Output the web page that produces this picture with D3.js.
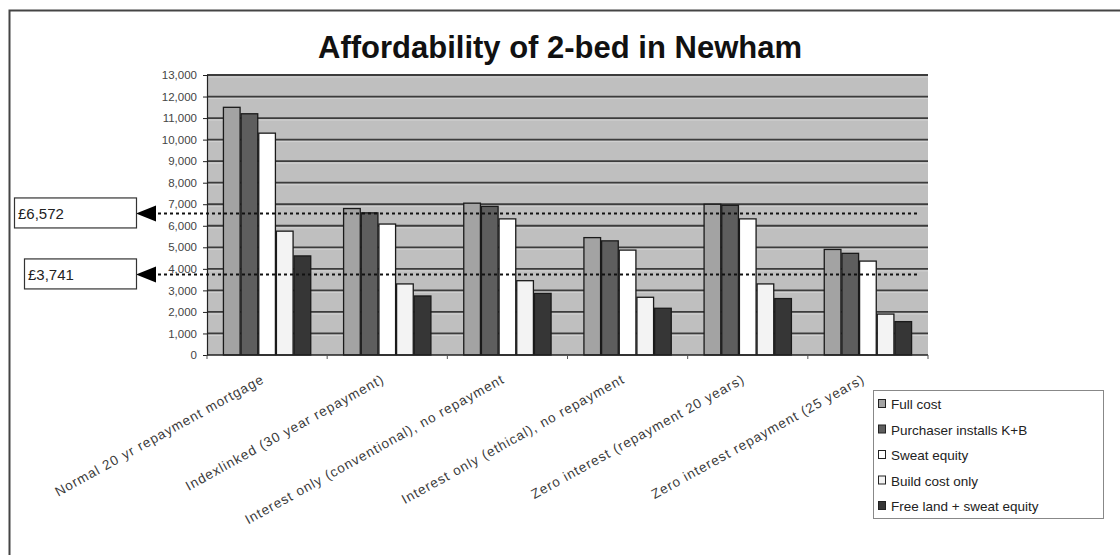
<!DOCTYPE html>
<html>
<head>
<meta charset="utf-8">
<script src="https://cdn.jsdelivr.net/npm/d3@7"></script>
<style>
  html, body { margin: 0; padding: 0; background: #fff; }
  svg { display: block; font-family: "Liberation Sans", Arial, sans-serif; }
</style>
</head>
<body>
<svg id="chart" width="1120" height="555"></svg>
<script>
// Annual cost of a 2-bed home in Newham under different finance options (£)
const categories = [
  "Normal 20 yr repayment mortgage",
  "Indexlinked (30 year repayment)",
  "Interest only (conventional), no repayment",
  "Interest only (ethical), no repayment",
  "Zero interest (repayment 20 years)",
  "Zero interest repayment (25 years)"
];
const seriesNames = [
  "Full cost",
  "Purchaser installs K+B",
  "Sweat equity",
  "Build cost only",
  "Free land + sweat equity"
];
const fullCost      = [11500, 6800, 7050, 5450, 7000, 4900];
const purchaserKB   = [11200, 6600, 6900, 5300, 6950, 4720];
const sweatEquity   = [10300, 6080, 6320, 4870, 6320, 4360];
const buildCostOnly = [5750, 3300, 3450, 2680, 3300, 1900];
const freeLand      = [4600, 2740, 2860, 2170, 2620, 1550];
const seriesValues = [fullCost, purchaserKB, sweatEquity, buildCostOnly, freeLand];
const yTicks = d3.range(0, 13001, 1000);
const refValues = [6572, 3741];
const refLabels = ["£6,572", "£3,741"];

const fills = ["#a3a3a3", "#5e5e5e", "#ffffff", "#f3f3f3", "#363636"];

const svg = d3.select("#chart");
const W = 1120, H = 555;
const plot = { left: 207, right: 928, top: 75, bottom: 355 };

// outer frame (only top and left edges fall inside the view)
svg.append("rect")
  .attr("x", 9.5).attr("y", 10.5)
  .attr("width", W + 20).attr("height", H + 20)
  .attr("fill", "none").attr("stroke", "#444").attr("stroke-width", 2);

// title
svg.append("text")
  .attr("x", 560).attr("y", 58)
  .attr("text-anchor", "middle")
  .attr("font-size", 31).attr("font-weight", "bold")
  .attr("fill", "#111")
  .text("Affordability of 2-bed in Newham");

const x0 = d3.scaleBand().domain(categories).range([plot.left, plot.right]).padding(0);
const groupFrac = 0.735;
const x1 = d3.scaleBand().domain(seriesNames)
  .range([0, x0.bandwidth() * groupFrac]).padding(0);
const groupOffset = x0.bandwidth() * (1 - groupFrac) / 2;
const y = d3.scaleLinear().domain([0, 13000]).range([plot.bottom, plot.top]);

// plot background
svg.append("rect")
  .attr("x", plot.left).attr("y", plot.top)
  .attr("width", plot.right - plot.left).attr("height", plot.bottom - plot.top)
  .attr("fill", "#bfbfbf");

// horizontal gridlines
const grid = svg.append("g");
grid.selectAll("line.g").data(yTicks.filter(d => d > 0)).join("line")
  .attr("class", "g")
  .attr("x1", plot.left).attr("x2", plot.right)
  .attr("y1", d => y(d)).attr("y2", d => y(d))
  .attr("stroke", "#3c3c3c").attr("stroke-width", 1.8);
grid.selectAll("line.h").data(yTicks.filter(d => d > 0)).join("line")
  .attr("class", "h")
  .attr("x1", plot.left).attr("x2", plot.right)
  .attr("y1", d => y(d) + 2).attr("y2", d => y(d) + 2)
  .attr("stroke", "#d2d2d2").attr("stroke-width", 1);

// y axis
const yAxis = d3.axisLeft(y).tickValues(yTicks).tickSize(4).tickPadding(6)
  .tickFormat(d3.format(","));
const gy = svg.append("g").attr("transform", `translate(${plot.left},0)`).call(yAxis);
gy.select(".domain").attr("stroke", "#222").attr("stroke-width", 1.2);
gy.selectAll(".tick line").attr("stroke", "#222");
gy.selectAll(".tick text").attr("font-size", 11.5).attr("fill", "#444")
  .attr("font-family", "'Liberation Sans', Arial, sans-serif");

// bars
const groups = svg.append("g").selectAll("g").data(categories).join("g")
  .attr("transform", c => `translate(${x0(c) + groupOffset},0)`);
groups.selectAll("rect")
  .data((c, i) => seriesNames.map((s, j) => ({ s, j, v: seriesValues[j][i] })))
  .join("rect")
  .attr("x", d => x1(d.s) + 0.5)
  .attr("width", x1.bandwidth() - 1)
  .attr("y", d => y(d.v))
  .attr("height", d => y(0) - y(d.v))
  .attr("fill", d => fills[d.j])
  .attr("stroke", "#1a1a1a").attr("stroke-width", 1.3);

// x axis with ticks at category boundaries
svg.append("line")
  .attr("x1", plot.left).attr("x2", plot.right)
  .attr("y1", plot.bottom).attr("y2", plot.bottom)
  .attr("stroke", "#222").attr("stroke-width", 1.5);
svg.append("g").selectAll("line")
  .data(categories.map(c => x0(c)).concat([plot.right]))
  .join("line")
  .attr("x1", d => d).attr("x2", d => d)
  .attr("y1", plot.bottom).attr("y2", plot.bottom + 4)
  .attr("stroke", "#555");

// rotated category labels
svg.append("g").selectAll("text").data(categories).join("text")
  .attr("transform", c => `translate(${x0(c) + x0.bandwidth() / 2 - 2},${plot.bottom + 27}) rotate(-29)`)
  .attr("text-anchor", "end")
  .attr("font-size", 13.5)
  .attr("letter-spacing", 1)
  .attr("fill", "#3a3a3a")
  .text(c => c);

// reference lines with value callouts
const refs = svg.append("g");
refValues.forEach((v, i) => {
  const yy = y(v);
  refs.append("line")
    .attr("x1", 152).attr("x2", 920)
    .attr("y1", yy).attr("y2", yy)
    .attr("stroke", "#111").attr("stroke-width", 2)
    .attr("stroke-dasharray", "3,3");
  refs.append("path")
    .attr("d", `M136,${yy} L156,${yy - 8} L156,${yy + 8} Z`)
    .attr("fill", "#000");
  const bx = i === 0 ? 14 : 24;
  refs.append("rect")
    .attr("x", bx + 0.5).attr("y", yy - 15.5)
    .attr("width", 136 - bx).attr("height", 30)
    .attr("fill", "#fff").attr("stroke", "#333").attr("stroke-width", 1.2);
  refs.append("text")
    .attr("x", bx + 4).attr("y", yy + 6)
    .attr("font-size", 15).attr("fill", "#222")
    .text(refLabels[i]);
});

// legend
const lg = svg.append("g").attr("transform", "translate(873,390)");
lg.append("rect")
  .attr("x", 0.5).attr("y", 0.5).attr("width", 230).attr("height", 128)
  .attr("fill", "#fff").attr("stroke", "#888").attr("stroke-width", 1);
const items = lg.selectAll("g").data(seriesNames).join("g")
  .attr("transform", (d, i) => `translate(5,${14 + i * 25.5})`);
items.append("rect")
  .attr("x", 0.5).attr("y", -4.5).attr("width", 7).attr("height", 8)
  .attr("fill", (d, i) => fills[i]).attr("stroke", "#222").attr("stroke-width", 1);
items.append("text")
  .attr("x", 13).attr("y", 5)
  .attr("font-size", 13.5).attr("fill", "#222")
  .text(d => d);
</script>
</body>
</html>
